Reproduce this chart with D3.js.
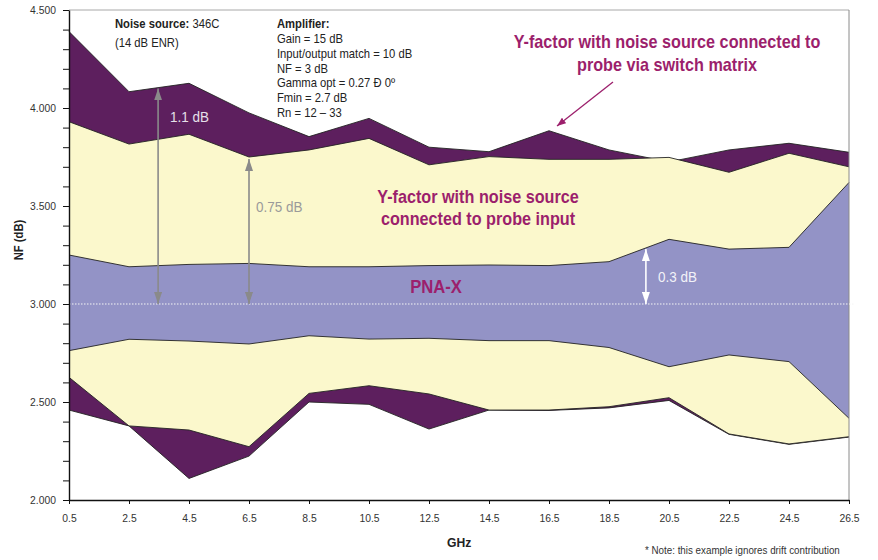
<!DOCTYPE html>
<html>
<head>
<meta charset="utf-8">
<script src="https://cdn.jsdelivr.net/npm/d3@7"></script>
<style>
  html, body { margin: 0; padding: 0; background: #fff; }
  svg { display: block; }
  text { font-family: "Liberation Sans", Arial, sans-serif; }
</style>
</head>
<body>
<svg id="chart" width="878" height="560"></svg>
<script>
// ---------- data ----------
const ghz = [0.5, 2.5, 4.5, 6.5, 8.5, 10.5, 12.5, 14.5, 16.5, 18.5, 20.5, 22.5, 24.5, 26.5];
const xTickLabels = ["0.5","2.5","4.5","6.5","8.5","10.5","12.5","14.5","16.5","18.5","20.5","22.5","24.5","26.5"];
// Y-factor, noise source connected to probe via switch matrix (outer band)
const switchTop    = [4.390, 4.083, 4.126, 3.975, 3.854, 3.947, 3.800, 3.777, 3.884, 3.786, 3.725, 3.786, 3.820, 3.774];
const switchBottom = [2.459, 2.378, 2.110, 2.224, 2.500, 2.488, 2.362, 2.459, 2.457, 2.470, 2.508, 2.335, 2.284, 2.321];
// Y-factor, noise source connected to probe input (middle band)
const probeTop     = [3.930, 3.816, 3.866, 3.750, 3.786, 3.845, 3.710, 3.752, 3.738, 3.738, 3.748, 3.672, 3.769, 3.700];
const probeBottom  = [2.626, 2.378, 2.357, 2.272, 2.544, 2.583, 2.541, 2.459, 2.459, 2.476, 2.522, 2.337, 2.286, 2.323];
// PNA-X (inner band)
const pnaTop       = [3.250, 3.190, 3.202, 3.207, 3.190, 3.190, 3.196, 3.199, 3.196, 3.216, 3.330, 3.280, 3.289, 3.620];
const pnaBottom    = [2.762, 2.820, 2.811, 2.796, 2.838, 2.821, 2.825, 2.813, 2.813, 2.778, 2.680, 2.740, 2.706, 2.417];
const yMajorTicks  = [2.0, 2.5, 3.0, 3.5, 4.0, 4.5];
const yTickLabels  = ["2.000","2.500","3.000","3.500","4.000","4.500"];
const yMinorTicks  = d3.range(20, 46).map(d => d / 10);
const nominalNF    = 3.0;
// annotation arrows: GHz position, from NF, to NF, label
const dimArrows = [
  { x: 3.47,  from: 3.0, to: 4.10, label: "1.1 dB" },
  { x: 6.5,   from: 3.0, to: 3.74, label: "0.75 dB" },
  { x: 19.73, from: 3.0, to: 3.28, label: "0.3 dB" }
];
const amplifierLines = ["Gain = 15 dB", "Input/output match = 10 dB", "NF = 3 dB", "Gamma opt = 0.27 Đ 0º", "Fmin = 2.7 dB", "Rn = 12 – 33"];

// ---------- layout ----------
const svg = d3.select("#chart");
const margin = { left: 69, top: 10, right: 29, bottom: 60 };
const W = 878, H = 560;
const SX = 0.9; // horizontal condensing of the text
const x = d3.scaleLinear().domain([0.5, 26.5]).range([margin.left, W - margin.right]);
const y = d3.scaleLinear().domain([2.0, 4.5]).range([H - margin.bottom, margin.top]);

const colDark = "#5d1f5e", colYellow = "#fbf8cc", colBlue = "#9393c6", colPurpleText = "#9c1f6c";

const rows = ghz.map((g, i) => ({ g, st: switchTop[i], sb: switchBottom[i], pt: probeTop[i], pb: probeBottom[i], nt: pnaTop[i], nb: pnaBottom[i] }));

function band(topKey, botKey, fill) {
  const area = d3.area().x(d => x(d.g)).y0(d => y(d[botKey])).y1(d => y(d[topKey]));
  svg.append("path").datum(rows).attr("d", area).attr("fill", fill);
  [topKey, botKey].forEach(k => {
    svg.append("path").datum(rows).attr("d", d3.line().x(d => x(d.g)).y(d => y(d[k])))
      .attr("fill", "none").attr("stroke", "#222").attr("stroke-width", 0.9);
  });
}
band("st", "sb", colDark);
band("pt", "pb", colYellow);
band("nt", "nb", colBlue);

// frame: top and right gray
svg.append("line").attr("x1", x(0.5)).attr("x2", x(26.5)).attr("y1", y(4.5)).attr("y2", y(4.5)).attr("stroke", "#a8a8a8").attr("stroke-width", 1);
svg.append("line").attr("x1", x(26.5)).attr("x2", x(26.5)).attr("y1", y(4.5)).attr("y2", y(2.0)).attr("stroke", "#8a8a8a").attr("stroke-width", 1);

// nominal dotted line
svg.append("line").attr("x1", x(0.5)).attr("x2", x(26.5) + 5).attr("y1", y(nominalNF)).attr("y2", y(nominalNF))
  .attr("stroke", "#f4f4f4").attr("stroke-width", 1).attr("stroke-dasharray", "1.5,1.5");

// text helper (condensed via horizontal scale)
function T(px, py, str, o = {}) {
  const t = svg.append("text").attr("transform", `translate(${px},${py}) scale(${o.sx || SX},1)`)
    .attr("text-anchor", o.anchor || "start").attr("font-size", o.size || 12)
    .attr("font-weight", o.weight || "normal").attr("fill", o.fill || "#222");
  if (str !== null) t.text(str);
  return t;
}

// axes
const yAxis = d3.axisLeft(y).tickValues(yMinorTicks).tickSize(6).tickSizeOuter(0)
  .tickFormat(d => { const k = yMajorTicks.findIndex(v => Math.abs(v - d) < 1e-6); return k >= 0 ? yTickLabels[k] : ""; });
const gy = svg.append("g").attr("transform", `translate(${margin.left},0)`).call(yAxis);
gy.select(".domain").attr("stroke", "#111").attr("stroke-width", 1.4);
gy.selectAll(".tick line").attr("stroke", "#111").attr("stroke-width", 1);
gy.selectAll(".tick text").attr("x", -13 / SX).attr("transform", `scale(${SX},1)`).attr("font-size", 11.5).attr("fill", "#333").attr("font-family", null);

const xAxis = d3.axisBottom(x).tickValues(ghz).tickSize(4).tickSizeOuter(0).tickFormat((d, i) => xTickLabels[i]);
const gx = svg.append("g").attr("transform", `translate(0,${H - margin.bottom})`).call(xAxis);
gx.select(".domain").attr("stroke", "#111").attr("stroke-width", 1.4);
gx.selectAll(".tick line").attr("stroke", "#111");
gx.selectAll(".tick text").attr("y", 14).attr("transform", `scale(${SX},1)`).attr("font-size", 11.5).attr("fill", "#333").attr("font-family", null);

// axis titles
svg.append("text").attr("transform", `translate(23,240) rotate(-90) scale(${SX},1)`).attr("text-anchor", "middle")
  .attr("font-size", 12.5).attr("font-weight", "bold").attr("fill", "#222").text("NF (dB)");
T(447, 547, "GHz", { size: 13.5, weight: "bold" });
T(645, 554, "* Note: this example ignores drift contribution", { size: 10, sx: 0.98, fill: "#333" });

// arrowheads
const defs = svg.append("defs");
function marker(id, color, w, l) {
  defs.append("marker").attr("id", id).attr("viewBox", `0 0 ${l} ${w}`).attr("refX", l).attr("refY", w / 2)
    .attr("markerWidth", l).attr("markerHeight", w).attr("markerUnits", "userSpaceOnUse").attr("orient", "auto-start-reverse")
    .append("path").attr("d", `M0,0 L${l},${w / 2} L0,${w} Z`).attr("fill", color);
}
marker("mGray", "#8a8a8a", 8, 12);
marker("mWhite", "#ffffff", 8, 12);
marker("mPurple", colPurpleText, 7, 9);

const arrowStyles = [
  { col: "#8a8a8a", m: "mGray", txt: "#e6e0ea", tx: 12, ty: 3.93 },
  { col: "#8a8a8a", m: "mGray", txt: "#9a9a9a", tx: 7, ty: 3.47 },
  { col: "#ffffff", m: "mWhite", txt: "#f2f2f8", tx: 12, ty: 3.114 }
];
dimArrows.forEach((a, i) => {
  const s = arrowStyles[i];
  svg.append("line").attr("x1", x(a.x)).attr("x2", x(a.x)).attr("y1", y(a.from)).attr("y2", y(a.to))
    .attr("stroke", s.col).attr("stroke-width", 1.6).attr("marker-start", `url(#${s.m})`).attr("marker-end", `url(#${s.m})`);
  T(x(a.x) + s.tx, y(s.ty), a.label, { size: 15, fill: s.txt });
});

// text annotations
const t1 = T(115, 28, null, { size: 12.5 });
t1.append("tspan").attr("font-weight", "bold").text("Noise source:");
t1.append("tspan").text(" 346C");
T(115, 46.5, "(14 dB ENR)", { size: 12.5 });

T(277, 28, "Amplifier:", { size: 12.5, weight: "bold" });
amplifierLines.forEach((t, i) => T(277, 43.3 + i * 14.7, t, { size: 12.5 }));

function label(lines, cx, y0, dy, size) {
  lines.forEach((t, i) => T(cx, y0 + i * dy, t, { anchor: "middle", size, weight: "bold", fill: colPurpleText }));
}
label(["Y-factor with noise source connected to", "probe via switch matrix"], 667, 48, 22.5, 18);
label(["Y-factor with noise source", "connected to probe input"], 478, 203, 22, 18);
label(["PNA-X"], 436, 293, 0, 18.5);

// pointer arrow
svg.append("line").attr("x1", 613).attr("y1", 82).attr("x2", 557).attr("y2", 126)
  .attr("stroke", colPurpleText).attr("stroke-width", 1.3).attr("marker-end", "url(#mPurple)");
</script>
</body>
</html>
